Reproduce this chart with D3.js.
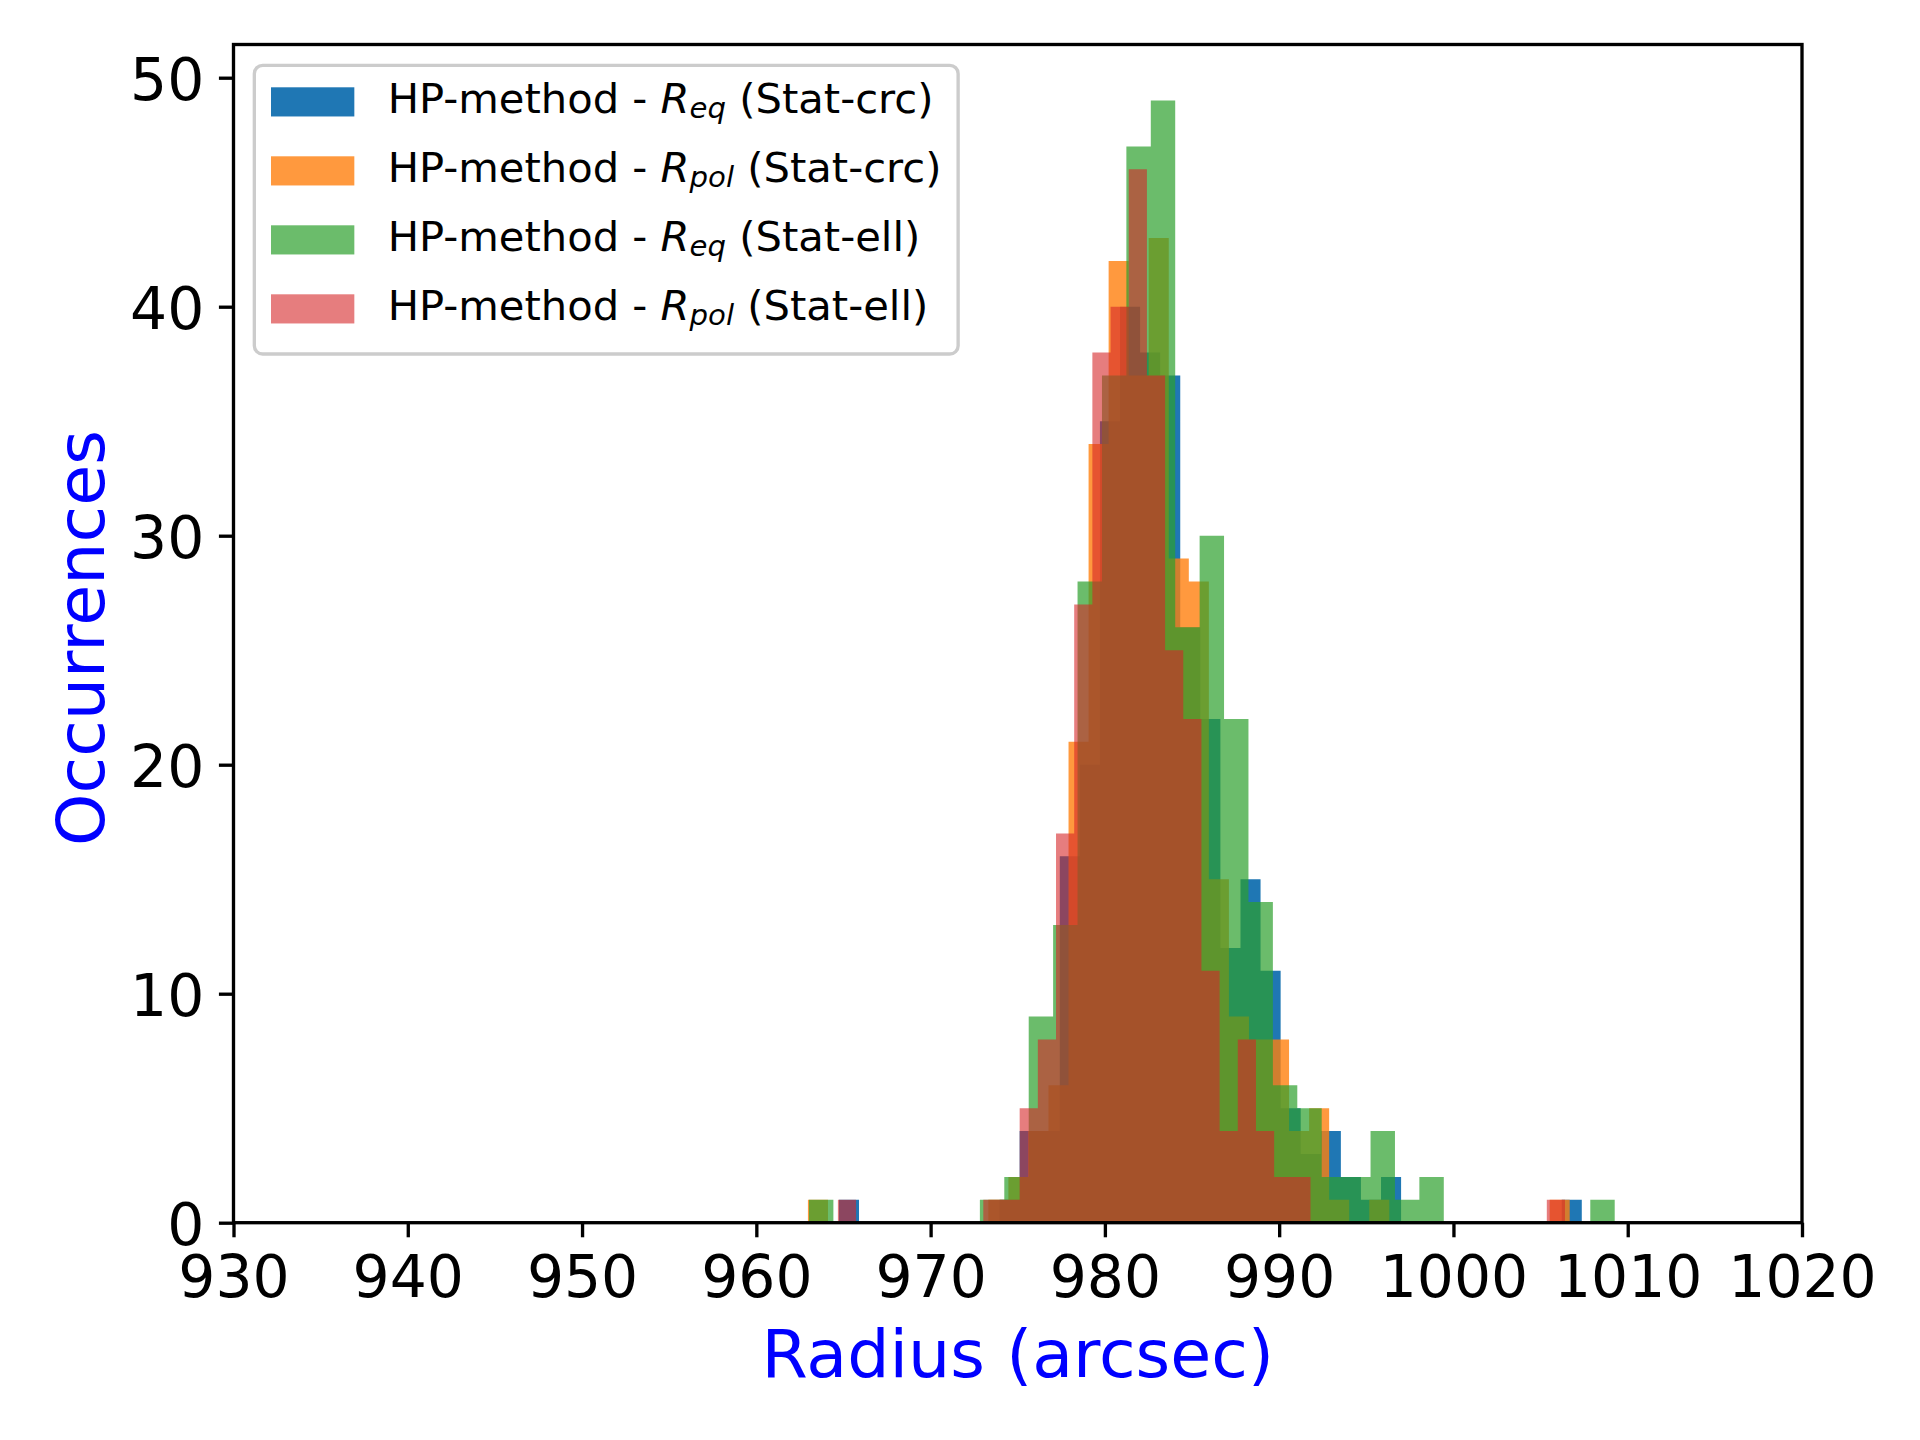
<!DOCTYPE html>
<html lang="en">
<head>
  <meta charset="UTF-8">
  <title>Radius histograms</title>
  <script src="https://d3js.org/d3.v7.min.js"></script>
  <style>
    * { margin: 0; padding: 0; }
    body { background: #fff; width: 1920px; height: 1440px; overflow: hidden; }
    svg { display: block; font-family: 'DejaVu Sans', sans-serif; }
  </style>
</head>
<body>
  <svg id="chart" width="1920" height="1440"></svg>

  <script>
    // --- data ----------------------------------------------------------
    // each histogram: first bin edge, bin width (arcsec), counts per bin
    const blueStart = 964.74, blueWidth = 1.152;
    const blueCounts = [1, 0, 0, 0, 0, 0, 0, 0, 1, 4, 4, 16, 20, 35, 40, 38, 37, 26, 22, 12,
                        15, 11, 5, 3, 4, 2, 1, 2, 0, 0, 0, 0, 0, 0, 0, 0, 1];

    const orangeStart = 962.96, orangeWidth = 1.1503;
    const orangeCounts = [1, 0, 0, 0, 0, 0, 0, 0, 0, 1, 2, 4, 6, 21, 34, 42, 37, 43, 29, 28,
                          15, 9, 8, 8, 4, 5, 1, 0, 1, 0, 0, 0, 0, 0, 0, 0, 0, 1];

    const greenStart = 963.02, greenWidth = 1.401;
    const greenCounts = [1, 0, 0, 0, 0, 0, 0, 1, 2, 9, 13, 28, 37, 47, 49, 26, 30, 22, 14, 6,
                         5, 2, 2, 4, 1, 2, 0, 0, 0, 0, 0, 0, 1];

    const redStart = 964.68, redWidth = 1.043;
    const redCounts = [1, 0, 0, 0, 0, 0, 0, 0, 1, 1, 5, 8, 17, 27, 38, 40, 46, 37, 25, 22,
                       11, 4, 8, 4, 2, 2, 0, 0, 0, 0, 0, 0, 0, 0, 0, 0, 0, 0, 0, 1];

    const seriesNames = ["eq|Stat-crc", "pol|Stat-crc", "eq|Stat-ell", "pol|Stat-ell"];
    const seriesColors = ["#1f77b4", "#ff7f0e", "#2ca02c", "#d62728"];
    const seriesAlpha = [1.0, 0.8, 0.7, 0.6];

    const xTicks = [930, 940, 950, 960, 970, 980, 990, 1000, 1010, 1020];
    const yTicks = [0, 10, 20, 30, 40, 50];

    // --- layout -----------------------------------------------------------
    const pt = 300 / 72;                 // figure rendered at 300 dpi
    const plot = {left: 233.5, right: 1802, top: 44.5, bottom: 1222.7};

    const svg = d3.select("#chart");

    const x = d3.scaleLinear().domain([930, 1020]).range([plot.left, plot.right]);
    const y = d3.scaleLinear().domain([0, 49 * 1.05]).range([plot.bottom, plot.top]);

    const series = [
      {start: blueStart, width: blueWidth, counts: blueCounts},
      {start: orangeStart, width: orangeWidth, counts: orangeCounts},
      {start: greenStart, width: greenWidth, counts: greenCounts},
      {start: redStart, width: redWidth, counts: redCounts}
    ];

    // step outline of one histogram
    const area = d3.area()
      .curve(d3.curveStepAfter)
      .x(d => x(d.edge))
      .y0(y(0))
      .y1(d => y(d.count));

    const bars = svg.append("g");
    series.forEach((s, i) => {
      const pts = s.counts.map((c, k) => ({edge: s.start + k * s.width, count: c}));
      pts.push({edge: s.start + s.counts.length * s.width, count: 0});
      bars.append("path")
        .datum(pts)
        .attr("d", area)
        .attr("fill", seriesColors[i])
        .attr("fill-opacity", seriesAlpha[i]);
    });

    // --- axes ---------------------------------------------------------------
    const tickLen = 3.5 * pt, tickPad = 3.5 * pt, lw = 0.8 * pt;
    const tickFont = 14 * pt;

    const xAxis = svg.append("g")
      .attr("transform", `translate(0,${plot.bottom})`)
      .call(d3.axisBottom(x).tickValues(xTicks).tickFormat(d3.format("d"))
        .tickSize(tickLen).tickPadding(tickPad).tickSizeOuter(0));
    const yAxis = svg.append("g")
      .attr("transform", `translate(${plot.left},0)`)
      .call(d3.axisLeft(y).tickValues(yTicks).tickFormat(d3.format("d"))
        .tickSize(tickLen).tickPadding(tickPad).tickSizeOuter(0));

    [xAxis, yAxis].forEach(g => {
      g.select(".domain").remove();
      g.selectAll("line").attr("stroke", "#000").attr("stroke-width", lw);
      g.selectAll("text")
        .attr("fill", "#000")
        .style("font-family", "'DejaVu Sans', sans-serif")
        .style("font-size", tickFont + "px");
    });
    xAxis.selectAll("text").attr("dy", "0.78em");
    yAxis.selectAll("text").attr("dy", "0.38em");

    // spines
    svg.append("rect")
      .attr("x", plot.left).attr("y", plot.top)
      .attr("width", plot.right - plot.left).attr("height", plot.bottom - plot.top)
      .attr("fill", "none").attr("stroke", "#000").attr("stroke-width", lw);

    // axis labels
    const labelFont = 16 * pt;
    svg.append("text")
      .attr("x", (plot.left + plot.right) / 2)
      .attr("y", 1377)
      .attr("text-anchor", "middle")
      .attr("fill", "blue")
      .style("font-size", labelFont + "px")
      .text("Radius (arcsec)");

    svg.append("text")
      .attr("transform", "translate(104,638) rotate(-90)")
      .attr("text-anchor", "middle")
      .attr("fill", "blue")
      .style("font-size", labelFont + "px")
      .text("Occurrences");

    // --- legend -------------------------------------------------------------
    const fs = 10 * pt;
    const legLeft = plot.left + 0.5 * fs, legTop = plot.top + 0.5 * fs;
    const rowStep = 69;
    const legend = svg.append("g");
    const frame = legend.append("rect")
      .attr("x", legLeft).attr("y", legTop)
      .attr("rx", 0.2 * fs).attr("ry", 0.2 * fs)
      .attr("fill", "#fff").attr("fill-opacity", 0.8)
      .attr("stroke", "#cccccc").attr("stroke-width", lw);

    let maxRight = 0;
    seriesNames.forEach((name, i) => {
      const [sub, stat] = name.split("|");
      const patchX = legLeft + 0.4 * fs;
      const patchY = legTop + 0.4 * fs + 5.3 + i * rowStep;
      legend.append("rect")
        .attr("x", patchX).attr("y", patchY)
        .attr("width", 2 * fs).attr("height", 0.7 * fs)
        .attr("fill", seriesColors[i])
        .attr("fill-opacity", seriesAlpha[i]);

      const t = legend.append("text")
        .attr("x", patchX + 2 * fs + 0.8 * fs)
        .attr("y", 113.3 + i * rowStep)
        .attr("fill", "#000")
        .style("font-size", fs + "px")
        .attr("xml:space", "preserve");
      t.append("tspan").text("HP-method - ");
      t.append("tspan").style("font-style", "italic").text("R");
      t.append("tspan").style("font-style", "italic")
        .style("font-size", (0.7 * fs) + "px").attr("dy", 5).text(sub);
      t.append("tspan").attr("dy", -5).text(` (${stat})`);
      const bb = t.node().getBBox();
      maxRight = Math.max(maxRight, bb.x + bb.width);
    });

    frame
      .attr("width", maxRight + 0.4 * fs - legLeft)
      .attr("height", 354 - legTop);
  </script>
</body>
</html>
